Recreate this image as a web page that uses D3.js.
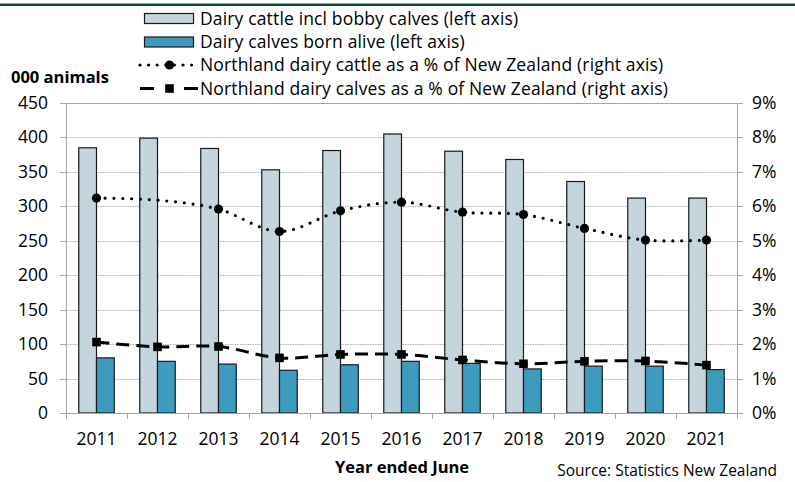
<!DOCTYPE html>
<html><head><meta charset="utf-8">
<script src="https://cdn.jsdelivr.net/npm/d3@7"></script>
<style>body{margin:0;background:#fff}svg{display:block}text{font-family:"Open Sans",Lato,sans-serif;fill:#000}</style>
</head><body><svg id="c" width="795" height="482"></svg>
<script>
const years = ["2011","2012","2013","2014","2015","2016","2017","2018","2019","2020","2021"];
const cattle = [385, 399, 384, 353, 381, 405, 380, 368, 336, 312, 312];
const calves = [80, 75, 71, 62, 70, 75, 72, 64, 68, 68, 63];
const cattlePct = [6.24, 6.18, 5.92, 5.27, 5.87, 6.12, 5.83, 5.76, 5.36, 5.02, 5.02];
const cattlePctMarker = [true, false, true, true, true, true, true, true, true, true, true];
const calvesPct = [2.06, 1.92, 1.93, 1.60, 1.70, 1.70, 1.54, 1.43, 1.50, 1.51, 1.39];
const leftTicks = [0,50,100,150,200,250,300,350,400,450];
const rightTicks = [0,1,2,3,4,5,6,7,8,9];
const legendLabels = ["Dairy cattle incl bobby calves (left axis)","Dairy calves born alive (left axis)","Northland dairy cattle as a % of New Zealand (right axis)","Northland dairy calves as a % of New Zealand (right axis)"];

const svg = d3.select("#c");
const L=66, R=737, T=103, B=413;
const x = d3.scaleBand().domain(years).range([L,R]).padding(0);
const sub = d3.scaleBand().domain(["cattle","calves"]).range([0,x.bandwidth()]).paddingInner(0).paddingOuter(0.72);
const yL = d3.scaleLinear().domain([0,450]).range([B,T]);
const yR = d3.scaleLinear().domain([0,9]).range([B,T]);

// top rule
svg.append("rect").attr("x",0).attr("y",3.5).attr("width",795).attr("height",2.5).attr("fill","#0d4a3a");

// gridlines
const g = svg.append("g");
g.selectAll("line.grid").data(leftTicks.filter(d=>d>0)).join("line")
  .attr("x1",L-6).attr("x2",R+6).attr("y1",d=>Math.round(yL(d))+0.5).attr("y2",d=>Math.round(yL(d))+0.5)
  .attr("stroke",d=>d===450?"#a6a6a6":"#b0b0b0").attr("stroke-width",1)
  .attr("stroke-dasharray",d=>d===450?null:"1.5,1");
g.selectAll("line.tl").data(leftTicks).join("line").attr("x1",L-6).attr("x2",L).attr("y1",d=>Math.round(yL(d))+0.5).attr("y2",d=>Math.round(yL(d))+0.5).attr("stroke","#a6a6a6");
g.selectAll("line.tr").data(rightTicks).join("line").attr("x1",R).attr("x2",R+6).attr("y1",d=>Math.round(yR(d))+0.5).attr("y2",d=>Math.round(yR(d))+0.5).attr("stroke","#a6a6a6");

// bars
const bars = svg.append("g");
bars.selectAll("rect.ca").data(years).join("rect")
  .attr("x",(d)=>x(d)+sub("cattle")).attr("width",sub.bandwidth())
  .attr("y",(d,i)=>yL(cattle[i])).attr("height",(d,i)=>B-yL(cattle[i]))
  .attr("fill","#c5d5de").attr("stroke","#1a1a1a").attr("stroke-width",1.2);
bars.selectAll("rect.cv").data(years).join("rect")
  .attr("x",(d)=>x(d)+sub("calves")).attr("width",sub.bandwidth())
  .attr("y",(d,i)=>yL(calves[i])).attr("height",(d,i)=>B-yL(calves[i]))
  .attr("fill","#3d9cbe").attr("stroke","#1a1a1a").attr("stroke-width",1.2);

// axes lines
svg.append("line").attr("x1",L+0.5).attr("x2",L+0.5).attr("y1",T).attr("y2",B).attr("stroke","#a6a6a6");
svg.append("line").attr("x1",R+0.5).attr("x2",R+0.5).attr("y1",T).attr("y2",B).attr("stroke","#a6a6a6");
svg.append("line").attr("x1",L-6).attr("x2",R+6).attr("y1",B+0.5).attr("y2",B+0.5).attr("stroke","#a6a6a6");
const xb = years.map(d=>x(d)).concat([R]);
svg.selectAll("line.xt").data(xb).join("line").attr("x1",d=>Math.round(d)+0.5).attr("x2",d=>Math.round(d)+0.5).attr("y1",B).attr("y2",B+6).attr("stroke","#a6a6a6");

// lines
const cx = d=>x(d)+x.bandwidth()/2;
const line = d3.line().x((d,i)=>cx(years[i])).y(d=>yR(d)).curve(d3.curveCatmullRom.alpha(0));
svg.append("path").attr("d",line(cattlePct)).attr("fill","none").attr("stroke","#000").attr("stroke-width",3.2).attr("stroke-linecap","round").attr("stroke-dasharray","0,8.8");
svg.selectAll("circle.m").data(cattlePct.map((v,i)=>({v,i})).filter(d=>cattlePctMarker[d.i])).join("circle")
  .attr("cx",d=>cx(years[d.i])).attr("cy",d=>yR(d.v)).attr("r",4.6).attr("fill","#000");
svg.append("path").attr("d",line(calvesPct)).attr("fill","none").attr("stroke","#000").attr("stroke-width",3).attr("stroke-dasharray","13,7");
svg.selectAll("rect.m").data(calvesPct).join("rect")
  .attr("x",(d,i)=>cx(years[i])-4.3).attr("y",d=>yR(d)-4.3).attr("width",8.6).attr("height",8.6).attr("fill","#000");

// tick labels
svg.selectAll("text.yl").data(leftTicks).join("text").attr("x",48).attr("y",d=>yL(d)+6).attr("text-anchor","end").attr("font-size",17.5).text(d=>d);
svg.selectAll("text.yr").data(rightTicks).join("text").attr("x",752).attr("y",d=>yR(d)+6).attr("text-anchor","start").attr("font-size",17.5).text(d=>d+"%");
svg.selectAll("text.xl").data(years).join("text").attr("x",d=>cx(d)).attr("y",445).attr("text-anchor","middle").attr("font-size",17.5).text(d=>d);

// titles
svg.append("text").attr("x",11).attr("y",83).attr("font-size",16.5).attr("font-weight","bold").text("000 animals");
svg.append("text").attr("x",402).attr("y",473).attr("text-anchor","middle").attr("font-size",16.5).attr("font-weight","bold").text("Year ended June");
svg.append("text").attr("x",777).attr("y",476).attr("text-anchor","end").attr("font-size",15.5).text("Source: Statistics New Zealand");

// legend
const lg = svg.append("g");
const ly = [18.5, 42, 65, 88.5];
lg.append("rect").attr("x",144.5).attr("y",13.5).attr("width",49).attr("height",10).attr("fill","#c5d5de").attr("stroke","#1a1a1a").attr("stroke-width",1.2);
lg.append("rect").attr("x",144.5).attr("y",37).attr("width",49).attr("height",10).attr("fill","#3d9cbe").attr("stroke","#1a1a1a").attr("stroke-width",1.2);
lg.append("path").attr("d",`M140,${ly[2]}H199`).attr("stroke","#000").attr("stroke-width",3.2).attr("stroke-linecap","round").attr("stroke-dasharray","0,8.6");
lg.append("circle").attr("cx",169.5).attr("cy",ly[2]).attr("r",4.6);
lg.append("path").attr("d",`M140,${ly[3]}H154M184,${ly[3]}H198`).attr("stroke","#000").attr("stroke-width",3);
lg.append("rect").attr("x",165.2).attr("y",ly[3]-4.3).attr("width",8.6).attr("height",8.6);
lg.selectAll("text").data(legendLabels).join("text").attr("x",200).attr("y",(d,i)=>ly[i]+6).attr("font-size",17.5).attr("letter-spacing",0.15).text(d=>d);
</script></body></html>
